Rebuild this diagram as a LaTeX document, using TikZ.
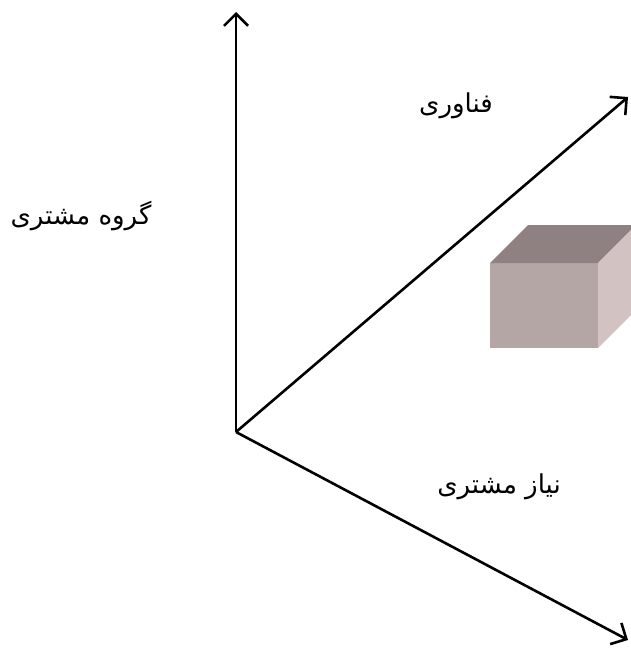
\documentclass[tikz,border=0pt]{standalone}
\usepackage{fontspec}
\newfontfamily\arabicfont[Script=Arabic]{DejaVu Sans}
\TeXXeTstate=1
\usetikzlibrary{arrows.meta, positioning}
\definecolor{cubetop}{HTML}{8F8082}
\definecolor{cubefront}{HTML}{B5A6A6}
\definecolor{cubeside}{HTML}{D2C2C2}

\begin{document}
\begin{tikzpicture}[
    x=1pt, y=-1pt,
    label/.style={font=\arabicfont\fontsize{26}{30}\selectfont, inner sep=0pt},
    axis/.style={line width=2.6pt, -{Straight Barb[length=12pt, width=24pt, line width=2.6pt]}}
]
\useasboundingbox (0,0) rectangle (630,652);

% Axes
\coordinate (origin) at (236,432);
\coordinate (top) at (236,12);
\coordinate (tech) at (628,97);
\coordinate (need) at (628,640);

\draw [axis] (origin) -- (top);
\draw [axis] (origin) -- (tech);
\draw [axis] (origin) -- (need);

% Labels
\node [label] (group) at (81,216) {\beginR گروه مشتری\endR};
\node [label] (techlabel) at (456,106) {\beginR فناوری\endR};
\node [label] (needlabel) at (499,487) {\beginR نیاز مشتری\endR};

% Cube
\fill [cubefront] (490,263) rectangle (598,348);
\fill [cubetop] (490,263) -- (528,225) -- (636,225) -- (598,263) -- cycle;
\fill [cubeside] (598,263) -- (636,225) -- (636,310) -- (598,348) -- cycle;

\end{tikzpicture}
\end{document}
